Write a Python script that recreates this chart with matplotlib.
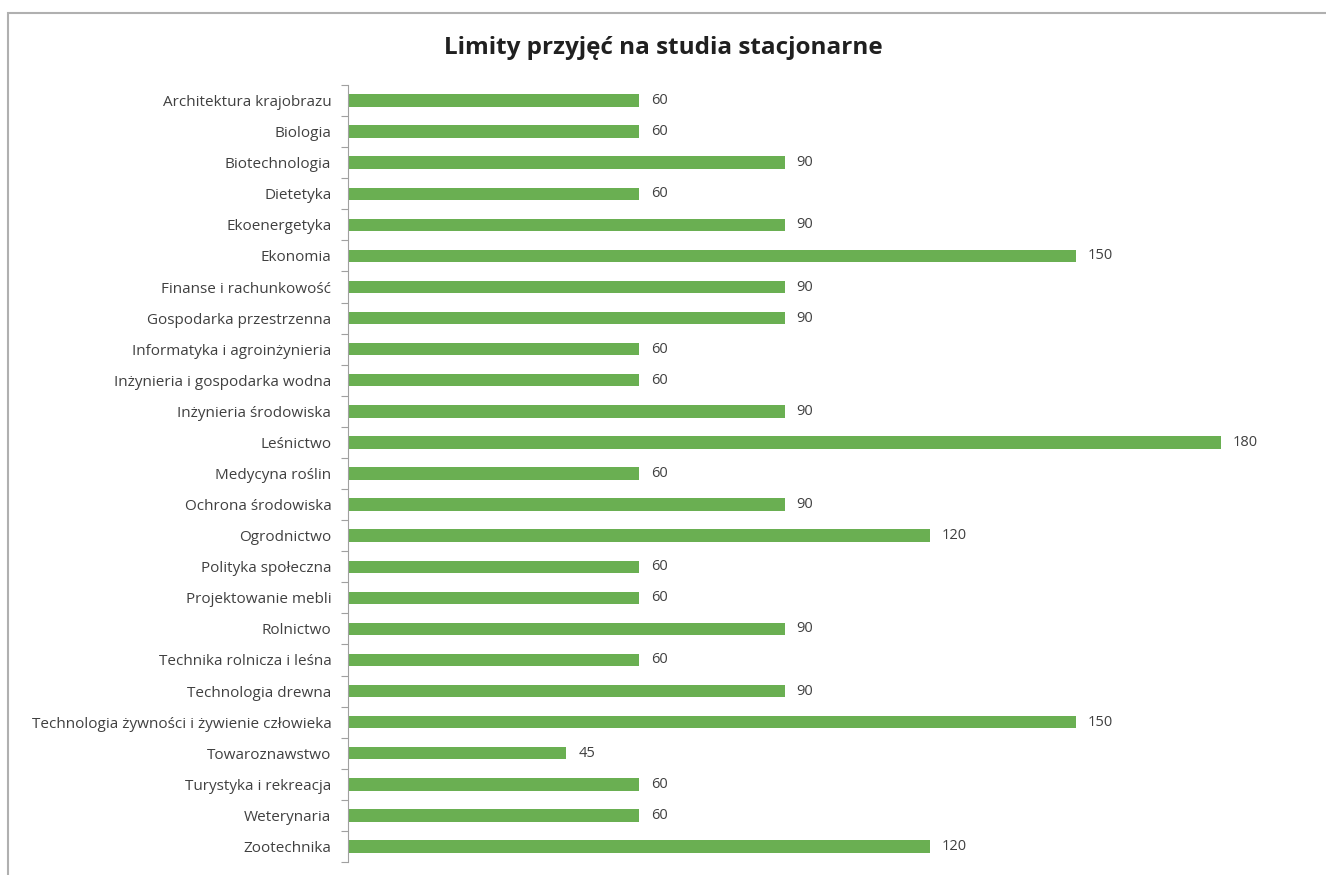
import matplotlib.pyplot as plt
from matplotlib.patches import Rectangle

plt.rcParams['font.family'] = ['Open Sans', 'DejaVu Sans']

kierunki = ["Architektura krajobrazu", "Biologia", "Biotechnologia", "Dietetyka",
            "Ekoenergetyka", "Ekonomia", "Finanse i rachunkowość",
            "Gospodarka przestrzenna", "Informatyka i agroinżynieria",
            "Inżynieria i gospodarka wodna", "Inżynieria środowiska", "Leśnictwo",
            "Medycyna roślin", "Ochrona środowiska", "Ogrodnictwo",
            "Polityka społeczna", "Projektowanie mebli", "Rolnictwo",
            "Technika rolnicza i leśna", "Technologia drewna",
            "Technologia żywności i żywienie człowieka", "Towaroznawstwo",
            "Turystyka i rekreacja", "Weterynaria", "Zootechnika"]
limity = [60, 60, 90, 60, 90, 150, 90, 90, 60, 60, 90, 180, 60, 90, 120,
          60, 60, 90, 60, 90, 150, 45, 60, 60, 120]

fig = plt.figure(figsize=(13.26, 8.75), dpi=100)
ax = fig.add_axes([348/1326, 1 - 862/875, 970/1326, 777/875])

y = list(range(len(kierunki)))
ax.barh(y, limity, height=0.4, color='#6aaf52')
for yi, v in zip(y, limity):
    ax.text(v + 2.5, yi, str(v), va='center', ha='left', fontsize=10.5, color='#404040')

ax.set_ylim(len(kierunki) - 0.5, -0.5)
ax.set_xlim(0, 200)
ax.set_yticks(y)
ax.set_yticklabels(kierunki, fontsize=11, color='#404040')
ax.set_yticks([i - 0.5 for i in range(len(kierunki) + 1)], minor=True)
ax.tick_params(axis='y', which='major', length=0, pad=12)
ax.tick_params(axis='y', which='minor', length=5, color='#a0a0a0', width=0.8)
ax.set_xticks([])
for s in ['top', 'right', 'bottom']:
    ax.spines[s].set_visible(False)
ax.spines['left'].set_color('#a0a0a0')
ax.spines['left'].set_linewidth(0.8)

fig.text(0.5, 1 - 48/875, 'Limity przyjęć na studia stacjonarne', ha='center', va='center',
         fontsize=17.5, fontweight='bold', color='#202020')

# ramka wykresu
fig.patches.append(Rectangle((8/1326, -0.05), 1.1, 1 - 13/875 + 0.05, transform=fig.transFigure,
                             fill=False, edgecolor='#b0b0b0', linewidth=1.5))

fig.savefig('out.png', dpi=100)
